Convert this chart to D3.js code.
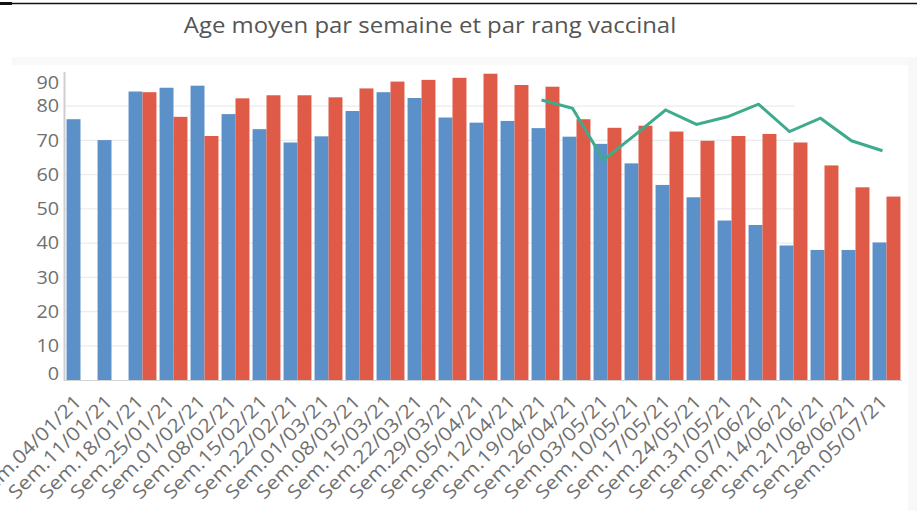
<!DOCTYPE html>
<html><head><meta charset="utf-8">
<script src="https://cdn.jsdelivr.net/npm/d3@7"></script>
<style>
html,body{margin:0;padding:0;background:#fff;}
svg{display:block;}
text{font-family:"Open Sans",sans-serif;}
</style></head>
<body>
<script>
const categories = ["Sem.04/01/21","Sem.11/01/21","Sem.18/01/21","Sem.25/01/21","Sem.01/02/21","Sem.08/02/21","Sem.15/02/21","Sem.22/02/21","Sem.01/03/21","Sem.08/03/21","Sem.15/03/21","Sem.22/03/21","Sem.29/03/21","Sem.05/04/21","Sem.12/04/21","Sem.19/04/21","Sem.26/04/21","Sem.03/05/21","Sem.10/05/21","Sem.17/05/21","Sem.24/05/21","Sem.31/05/21","Sem.07/06/21","Sem.14/06/21","Sem.21/06/21","Sem.28/06/21","Sem.05/07/21"];
const dose1 = [76.2,70.1,84.3,85.4,86.0,77.7,73.3,69.4,71.2,78.6,84.1,82.4,76.7,75.2,75.7,73.6,71.1,69.0,63.3,57.0,53.4,46.6,45.3,39.3,38.0,38.0,40.2];
const dose2 = [null,null,84.1,76.9,71.3,82.3,83.2,83.2,82.6,85.2,87.2,87.7,88.3,89.5,86.2,85.7,76.2,73.7,74.3,72.6,69.9,71.3,71.9,69.4,62.7,56.3,53.6];
const dose3 = [null,null,null,null,null,null,null,null,null,null,null,null,null,null,null,81.8,79.4,64.3,71.5,78.9,74.7,76.9,80.6,72.6,76.5,69.9,67.0];
const yTicks = [0,10,20,30,40,50,60,70,80,90];
const title = "Age moyen par semaine et par rang vaccinal";

const W = 917, H = 511;
const svg = d3.select("body").append("svg").attr("width", W).attr("height", H);

// frame decorations
svg.append("rect").attr("x",12).attr("y",57).attr("width",W-12).attr("height",8).attr("fill","#f9f9f9");
svg.append("rect").attr("x",908).attr("y",57).attr("width",9).attr("height",H-57).attr("fill","#f8f8f8");
svg.append("line").attr("x1",0).attr("x2",W).attr("y1",3.5).attr("y2",3.5).attr("stroke","#111").attr("stroke-width",1.3);
svg.append("rect").attr("x",0).attr("y",2).attr("width",12).attr("height",3).attr("fill","#111");

const x = d3.scaleBand().domain(categories).range([65, 902]).paddingInner(0.1).paddingOuter(0.05);
const sub = d3.scaleBand().domain(["d1","d2"]).range([0, x.bandwidth()]);
const y = d3.scaleLinear().domain([0, 90]).range([380, 72]);

// gridlines
svg.append("g").selectAll("line").data(yTicks.filter(t => t > 0 && t < 90)).join("line")
  .attr("x1", 65).attr("x2", 795)
  .attr("y1", d => y(d)).attr("y2", d => y(d))
  .attr("stroke", "#ebebeb").attr("stroke-width", 1.2);

// bars
const bars = svg.append("g");
bars.selectAll("rect.d1").data(categories.map((c,i)=>({c,v:dose1[i]})).filter(d=>d.v!=null)).join("rect")
  .attr("x", d => x(d.c) + sub("d1")).attr("width", sub.bandwidth())
  .attr("y", d => y(d.v)).attr("height", d => y(0) - y(d.v))
  .attr("fill", "#5b91c8");
bars.selectAll("rect.d2").data(categories.map((c,i)=>({c,v:dose2[i]})).filter(d=>d.v!=null)).join("rect")
  .attr("x", d => x(d.c) + sub("d2")).attr("width", sub.bandwidth())
  .attr("y", d => y(d.v)).attr("height", d => y(0) - y(d.v))
  .attr("fill", "#e05a48");

// line
const lineData = categories.map((c,i)=>({c,v:dose3[i]})).filter(d=>d.v!=null);
svg.append("path").datum(lineData)
  .attr("d", d3.line().x(d => x(d.c) + x.bandwidth()/2 - 4).y(d => y(d.v)))
  .attr("fill","none").attr("stroke","#3dab8c").attr("stroke-width",3).attr("stroke-linejoin","miter");

// y axis
const ya = svg.append("g").attr("transform","translate(65,0)")
  .call(d3.axisLeft(y).tickValues(yTicks).tickSize(0).tickPadding(6));
ya.select(".domain").remove();
ya.selectAll("text").attr("font-size",18).attr("fill","#707070")
  .attr("font-family","'Open Sans',sans-serif")
  .attr("dy", d => d===0 ? "-0.05em" : d===90 ? "0.9em" : "0.32em")
  .attr("transform","scale(1.1,1)").attr("x",-6/1.1);
svg.append("line").attr("x1",64.5).attr("x2",64.5).attr("y1",72).attr("y2",381).attr("stroke","#cfcfcf").attr("stroke-width",2);
svg.append("line").attr("x1",64).attr("x2",902).attr("y1",380.5).attr("y2",380.5).attr("stroke","#d4d4d4").attr("stroke-width",1);

// x axis
const xa = svg.append("g").attr("transform","translate(0,381)")
  .call(d3.axisBottom(x).tickSize(0));
xa.select(".domain").remove();
xa.selectAll("text")
  .attr("font-size",19).attr("fill","#707070").attr("font-family","'Open Sans',sans-serif")
  .attr("text-anchor","end").attr("y",0).attr("dy",0)
  .attr("transform","translate(2,22) rotate(-45) scale(1.12,1)");

// title
svg.append("text").attr("text-anchor","middle")
  .attr("transform","translate(430,33) scale(1.14,1)")
  .attr("font-size",21).attr("fill","#555").text(title);
</script>
</body></html>
